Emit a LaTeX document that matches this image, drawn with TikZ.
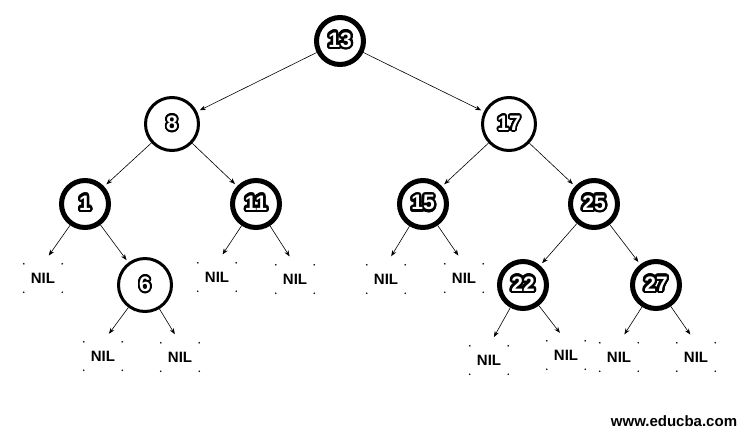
\documentclass[tikz,border=0pt]{standalone}
\usepackage{fontspec}
\setmainfont{Liberation Sans}
\usepackage{contour}
\usetikzlibrary{arrows.meta}
\contournumber{24}
\newcommand\bnum[1]{\contourlength{2.4pt}\contour{black}{#1}}
\newcommand\rnum[1]{\contourlength{1.8pt}\contour{black}{#1}}
\tikzset{
  bnode/.style={circle, draw, line width=5pt, minimum size=47pt, inner sep=0pt,
    font=\fontsize{21}{21}\selectfont\bfseries, text=white},
  rnode/.style={circle, draw, line width=3pt, minimum size=53pt, inner sep=0pt,
    font=\fontsize{21}{21}\selectfont\bfseries, text=white},
  nil/.style={minimum width=38pt, minimum height=28pt, inner sep=0pt,
    font=\fontsize{15}{15}\selectfont\bfseries},
  edge/.style={line width=0.6pt, -{Stealth[length=6pt,width=4.5pt]}, shorten >=3pt},
  niledge/.style={edge, shorten >=10pt},
}
\begin{document}
\begin{tikzpicture}[x=1pt,y=-1pt]
\useasboundingbox (0,0) rectangle (755,437);
\fill[white] (0,0) rectangle (755,437);
% tree nodes
\node[bnode] (n13) at (340,41) {\bnum{13}};
\node[rnode] (n8) at (172,124) {\rnum{8}};
\node[rnode] (n17) at (509,124) {\rnum{17}};
\node[bnode] (n1) at (85,204) {\bnum{1}};
\node[bnode] (n11) at (256,204) {\bnum{11}};
\node[bnode] (n15) at (423,204) {\bnum{15}};
\node[bnode] (n25) at (594,204) {\bnum{25}};
\node[rnode] (n6) at (145,285) {\rnum{6}};
\node[bnode] (n22) at (523,285) {\bnum{22}};
\node[bnode] (n27) at (656,285) {\bnum{27}};
% NIL leaves
\node[nil] (nil1) at (43,278) {NIL};
\node[nil] (nil2) at (217,277) {NIL};
\node[nil] (nil3) at (295,279) {NIL};
\node[nil] (nil4) at (386,279) {NIL};
\node[nil] (nil5) at (464,278) {NIL};
\node[nil] (nil6) at (103,356) {NIL};
\node[nil] (nil7) at (180,357) {NIL};
\node[nil] (nil8) at (489,360) {NIL};
\node[nil] (nil9) at (566,355) {NIL};
\node[nil] (nil10) at (619,357) {NIL};
\node[nil] (nil11) at (696,357) {NIL};
\foreach \n in {nil1,nil2,nil3,nil4,nil5,nil6,nil7,nil8,nil9,nil10,nil11}{
  \foreach \a in {north west,north east,south west,south east}{
    \fill (\n.\a) circle (0.9pt);
  }
}
% edges
\draw[edge] (n13) -- (n8);
\draw[edge] (n13) -- (n17);
\draw[edge] (n8) -- (n1);
\draw[edge] (n8) -- (n11);
\draw[edge] (n17) -- (n15);
\draw[edge] (n17) -- (n25);
\draw[edge] (n1) -- (n6);
\draw[edge] (n25) -- (n22);
\draw[edge] (n25) -- (n27);
\draw[niledge] (n1) -- (nil1.north);
\draw[niledge] (n11) -- (nil2.north);
\draw[niledge] (n11) -- (nil3.north);
\draw[niledge] (n15) -- (nil4.north);
\draw[niledge] (n15) -- (nil5.north);
\draw[niledge] (n6) -- (nil6.north);
\draw[niledge] (n6) -- (nil7.north);
\draw[niledge] (n22) -- (nil8.north);
\draw[niledge] (n22) -- (nil9.north);
\draw[niledge] (n27) -- (nil10.north);
\draw[niledge] (n27) -- (nil11.north);
% watermark
\node[font=\fontsize{15}{15}\selectfont\bfseries] (wm) at (674,421) {www.educba.com};
\end{tikzpicture}
\end{document}
